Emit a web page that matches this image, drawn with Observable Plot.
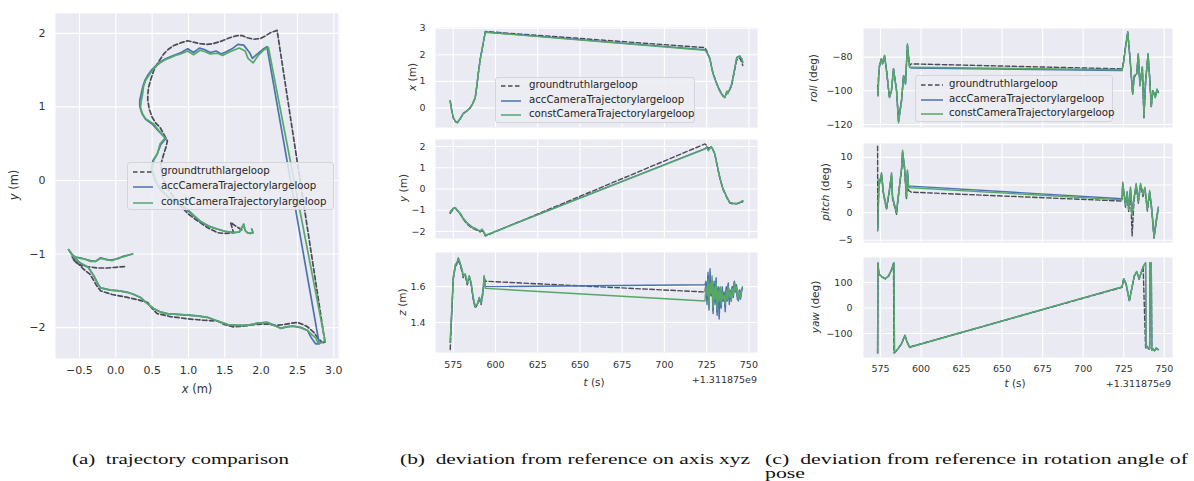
<!DOCTYPE html>
<html><head><meta charset="utf-8">
<script src="https://cdn.jsdelivr.net/npm/d3@7"></script>
<script src="https://cdn.jsdelivr.net/npm/@observablehq/plot@0.6"></script>
<style>
body{margin:0;background:#fff;}
#fig{position:relative;width:1194px;height:481px;overflow:hidden;background:#fff;font-family:"DejaVu Sans",sans-serif;color:#333;}
.p{position:absolute;}
.lab{position:absolute;white-space:nowrap;color:#333;transform:translate(-50%,-50%);}
.rot{transform:translate(-50%,-50%) rotate(-90deg);}
.off{position:absolute;white-space:nowrap;color:#333;font-size:9.5px;transform:translate(-100%,-50%);}
.cap{position:absolute;font-family:"Liberation Serif","Times New Roman",serif;font-size:15px;color:#111;white-space:nowrap;line-height:14px;transform-origin:0 50%;}
.leg{position:absolute;background:rgba(236,236,243,0.85);border:1px solid #d4d4dc;border-radius:3px;font-size:10.2px;color:#262626;box-sizing:border-box;}
.leg .row{position:absolute;left:0;right:0;height:12px;transform:translateY(-50%);}
.leg svg{position:absolute;top:0;}
.leg span{position:absolute;top:-1px;white-space:nowrap;}
</style></head><body><div id="fig"></div>
<script>
// ---------- series names / colours ----------
const seriesNames = ["groundtruthlargeloop", "accCameraTrajectorylargeloop", "constCameraTrajectorylargeloop"];
const seriesColors = ["#4a4a5a", "#4C72B0", "#55A868"];
const timeOffsetLabel = "+1.311875e9";

// ---------- (a) trajectory x/y pairs (m) ----------
const trajGroundTruth = [[0.12,-1.17],[0.00,-1.18],[-0.12,-1.19],[-0.25,-1.19],[-0.40,-1.17],[-0.52,-1.14],[-0.58,-1.08],[-0.60,-1.04],[-0.55,-1.10],[-0.45,-1.20],[-0.35,-1.28],[-0.27,-1.42],[-0.21,-1.50],[-0.05,-1.55],[0.16,-1.59],[0.30,-1.62],[0.44,-1.66],[0.50,-1.74],[0.57,-1.81],[0.75,-1.85],[0.99,-1.88],[1.20,-1.90],[1.40,-1.91],[1.50,-1.96],[1.62,-1.99],[1.75,-1.98],[1.89,-1.96],[2.09,-1.95],[2.20,-1.97],[2.31,-1.96],[2.42,-1.94],[2.50,-1.93],[2.58,-1.96],[2.64,-1.99],[2.72,-2.06],[2.78,-2.14],[2.84,-2.20],[2.88,-2.21],
[2.22,2.04],[2.13,2.01],[2.05,1.96],[1.99,1.93],[1.90,1.92],[1.81,1.94],[1.74,1.97],[1.67,1.97],[1.60,1.95],[1.54,1.93],[1.44,1.89],[1.34,1.86],[1.25,1.85],[1.16,1.86],[1.07,1.88],[0.99,1.90],[0.89,1.87],[0.79,1.83],[0.72,1.78],[0.66,1.72],[0.58,1.60],[0.52,1.49],[0.48,1.37],[0.45,1.26],[0.44,1.16],[0.44,1.09],[0.46,0.97],[0.50,0.86],[0.55,0.78],[0.61,0.72],[0.66,0.63],[0.71,0.54],[0.69,0.45],[0.66,0.36],[0.62,0.22],[0.64,0.05],[0.72,-0.12],[0.85,-0.30],[0.99,-0.45],[1.10,-0.53],[1.26,-0.64],[1.40,-0.71],[1.50,-0.72],[1.62,-0.71],[1.58,-0.57],[1.65,-0.62],[1.75,-0.68]];
const trajAcc = [[0.23,-1.00],[0.10,-1.03],[0.04,-1.06],[-0.05,-1.08],[-0.11,-1.08],[-0.21,-1.05],[-0.28,-1.10],[-0.35,-1.09],[-0.42,-1.07],[-0.49,-1.05],[-0.56,-1.04],[-0.60,-1.01],[-0.65,-0.94],[-0.62,-0.98],[-0.57,-1.05],[-0.49,-1.12],[-0.38,-1.18],[-0.30,-1.30],[-0.25,-1.40],[-0.21,-1.46],[-0.07,-1.49],[0.05,-1.50],[0.16,-1.52],[0.25,-1.55],[0.34,-1.59],[0.43,-1.67],[0.52,-1.74],[0.62,-1.79],[0.71,-1.81],[0.85,-1.82],[0.99,-1.83],[1.12,-1.84],[1.26,-1.86],[1.40,-1.91],[1.54,-1.96],[1.68,-1.97],[1.81,-1.97],[1.95,-1.94],[2.09,-1.93],[2.18,-1.97],[2.27,-2.01],[2.35,-1.99],[2.44,-1.98],[2.55,-2.00],[2.64,-2.04],[2.68,-2.12],[2.72,-2.18],[2.75,-2.22],[2.80,-2.22],
[2.08,1.82],[2.02,1.78],[1.95,1.72],[1.88,1.66],[1.84,1.74],[1.76,1.84],[1.68,1.85],[1.60,1.79],[1.52,1.75],[1.45,1.72],[1.38,1.76],[1.30,1.74],[1.22,1.78],[1.15,1.80],[1.07,1.74],[0.99,1.79],[0.90,1.74],[0.82,1.71],[0.75,1.68],[0.68,1.65],[0.61,1.61],[0.55,1.56],[0.49,1.50],[0.44,1.43],[0.40,1.36],[0.37,1.27],[0.35,1.18],[0.33,1.09],[0.33,1.01],[0.36,0.91],[0.41,0.83],[0.51,0.76],[0.60,0.66],[0.69,0.57],[0.62,0.49],[0.57,0.36],[0.51,0.27],[0.49,0.15],[0.54,0.00],[0.61,-0.12],[0.71,-0.22],[0.83,-0.30],[0.95,-0.38],[1.05,-0.46],[1.15,-0.55],[1.27,-0.62],[1.39,-0.66],[1.50,-0.69],[1.62,-0.71],[1.70,-0.70],[1.76,-0.60],[1.78,-0.68],[1.81,-0.71],[1.85,-0.72],[1.89,-0.71],[1.87,-0.66]];
const trajConst = [[0.23,-1.00],[0.10,-1.04],[0.04,-1.05],[-0.05,-1.09],[-0.11,-1.08],[-0.21,-1.06],[-0.28,-1.10],[-0.35,-1.10],[-0.42,-1.07],[-0.49,-1.06],[-0.56,-1.04],[-0.60,-1.02],[-0.65,-0.94],[-0.62,-0.98],[-0.57,-1.05],[-0.49,-1.12],[-0.38,-1.18],[-0.30,-1.30],[-0.25,-1.40],[-0.21,-1.46],[-0.07,-1.49],[0.05,-1.50],[0.16,-1.52],[0.25,-1.55],[0.34,-1.59],[0.43,-1.67],[0.52,-1.74],[0.62,-1.79],[0.71,-1.81],[0.85,-1.82],[0.99,-1.83],[1.12,-1.84],[1.26,-1.86],[1.40,-1.91],[1.54,-1.96],[1.68,-1.97],[1.81,-1.97],[1.95,-1.94],[2.09,-1.93],[2.18,-1.97],[2.27,-2.01],[2.35,-1.99],[2.44,-1.98],[2.55,-2.00],[2.64,-2.04],[2.70,-2.10],[2.75,-2.14],[2.78,-2.20],[2.82,-2.21],[2.88,-2.18],
[2.10,1.81],[2.03,1.77],[1.96,1.70],[1.89,1.60],[1.82,1.66],[1.78,1.76],[1.70,1.80],[1.62,1.77],[1.55,1.74],[1.47,1.70],[1.40,1.73],[1.30,1.72],[1.23,1.75],[1.16,1.77],[1.07,1.71],[0.99,1.76],[0.89,1.72],[0.82,1.70],[0.75,1.67],[0.68,1.64],[0.61,1.60],[0.55,1.55],[0.50,1.49],[0.45,1.42],[0.41,1.36],[0.38,1.27],[0.37,1.18],[0.35,1.08],[0.34,0.99],[0.37,0.90],[0.41,0.84],[0.52,0.77],[0.59,0.68],[0.68,0.58],[0.61,0.50],[0.57,0.36],[0.52,0.27],[0.50,0.15],[0.55,0.00],[0.62,-0.12],[0.72,-0.22],[0.84,-0.30],[0.96,-0.37],[1.06,-0.46],[1.16,-0.55],[1.28,-0.62],[1.40,-0.66],[1.50,-0.69],[1.62,-0.71],[1.70,-0.70],[1.76,-0.59],[1.78,-0.68],[1.81,-0.71],[1.85,-0.72],[1.89,-0.71],[1.87,-0.66]];

// ---------- (b) position over time (t in s, minus 1.311875e9) ----------
const tX = [573.2,574,575,576.2,577.4,579,580.9,583,585,586.5,588,589,589.8,591,592.2,593.2,594,724,725,726.9,728.7,731,732.8,734.6,735.8,737,737.5,738.7,739.9,740.5,741.7,742.8,744.6,745.8,746.4];
const xGt    = [0.25,-0.08,-0.38,-0.51,-0.56,-0.43,-0.23,-0.12,0.0,0.15,0.37,0.83,1.26,1.83,2.24,2.6,2.88,2.27,2.15,1.86,1.33,0.92,0.66,0.47,0.4,0.6,0.55,0.68,0.86,1.08,1.45,1.8,1.88,1.72,1.6];
const xAcc   = [0.27,-0.05,-0.36,-0.5,-0.55,-0.42,-0.21,-0.12,0.0,0.16,0.39,0.86,1.3,1.85,2.26,2.6,2.86,2.19,2.12,1.85,1.3,0.9,0.62,0.44,0.4,0.62,0.55,0.7,0.92,1.12,1.52,1.9,1.96,1.85,1.72];
const xConst = [0.27,-0.05,-0.37,-0.5,-0.56,-0.42,-0.22,-0.12,0.0,0.15,0.38,0.85,1.28,1.85,2.25,2.6,2.85,2.17,2.1,1.84,1.31,0.9,0.64,0.45,0.38,0.64,0.53,0.72,0.9,1.13,1.5,1.88,1.95,1.84,1.7];

const tY = [573.2,574,575,576.2,577.4,579.1,580.9,583.3,586.2,588,589.8,591,592.1,593.3,594,724,725,726,726.9,727.8,728.7,729.8,731,732.8,734.6,737,738.7,740.5,742.8,744.6,746.4];
const yGt    = [-1.15,-1.05,-0.95,-0.9,-1.02,-1.18,-1.42,-1.66,-1.85,-1.9,-1.98,-2.02,-1.95,-2.08,-2.21,2.12,2.05,1.9,1.95,1.98,1.85,1.65,1.18,0.5,0.0,-0.42,-0.66,-0.7,-0.7,-0.66,-0.6];
const yAcc   = [-1.08,-1.0,-0.9,-0.88,-1.0,-1.14,-1.38,-1.6,-1.79,-1.85,-1.94,-1.97,-1.9,-2.04,-2.18,1.9,1.98,1.82,1.93,1.97,1.86,1.66,1.22,0.55,0.03,-0.38,-0.63,-0.67,-0.69,-0.63,-0.56];
const yConst = [-1.1,-1.0,-0.92,-0.87,-1.0,-1.15,-1.39,-1.62,-1.8,-1.86,-1.95,-1.98,-1.9,-2.05,-2.19,1.88,1.95,1.8,1.9,2.0,1.85,1.67,1.2,0.54,0.02,-0.4,-0.64,-0.68,-0.68,-0.64,-0.55];

const tZ = [573.2,574.4,575,576.2,577.4,578,579.1,580.3,580.9,582.1,583.3,584.5,585.6,586.8,588,589.2,590.4,591.5,592.7,593.3,594,
724,724.6,725.2,725.8,726.4,727,727.6,728.2,728.8,729.4,730,730.6,731.2,731.8,732.4,733,733.6,734.2,734.8,735.4,736,736.6,737.2,737.8,738.4,739,739.6,740.2,740.8,741.4,742,742.6,743.2,743.8,744.4,745,745.6,746.2];
const zGt    = [1.25,1.5,1.64,1.71,1.73,1.75,1.72,1.68,1.65,1.66,1.61,1.65,1.61,1.53,1.48,1.5,1.53,1.5,1.57,1.65,1.63,
1.57,1.62,1.52,1.66,1.5,1.64,1.55,1.63,1.47,1.61,1.52,1.63,1.46,1.59,1.5,1.6,1.49,1.58,1.52,1.56,1.49,1.59,1.53,1.61,1.53,1.58,1.52,1.6,1.55,1.63,1.58,1.61,1.54,1.53,1.58,1.54,1.58,1.6];
const zAcc   = [1.29,1.52,1.65,1.72,1.74,1.76,1.73,1.69,1.66,1.67,1.62,1.66,1.62,1.54,1.49,1.5,1.54,1.51,1.58,1.66,1.6,
1.61,1.63,1.5,1.68,1.47,1.7,1.55,1.6,1.45,1.63,1.5,1.65,1.44,1.6,1.42,1.58,1.48,1.6,1.52,1.57,1.46,1.6,1.52,1.62,1.5,1.58,1.53,1.6,1.54,1.63,1.57,1.61,1.53,1.52,1.58,1.53,1.57,1.59];
const zConst = [1.29,1.52,1.65,1.72,1.73,1.76,1.73,1.69,1.66,1.67,1.62,1.66,1.62,1.54,1.49,1.5,1.54,1.51,1.58,1.66,1.59,
1.52,1.6,1.55,1.64,1.5,1.62,1.56,1.66,1.48,1.6,1.53,1.62,1.47,1.58,1.52,1.6,1.5,1.57,1.53,1.55,1.5,1.58,1.53,1.6,1.54,1.57,1.52,1.59,1.55,1.62,1.58,1.6,1.55,1.53,1.57,1.54,1.58,1.6];

// ---------- (c) rotation angles over time (deg) ----------
const tRoll = [573.2,573.5,573.8,574.4,575.6,576.2,577.5,578.7,580.5,581.8,583,584.9,586.1,588,589.2,590.4,591.6,592.9,594,
724,725,726,727.5,729,730.5,731.5,733,734,735,736.5,737.5,738.5,740,741,742,743,744.5,745.5,746.4];
const rollGt    = [-97,-102,-92,-85,-81,-84,-80,-88,-104,-99,-87,-100,-118,-105,-91,-95,-73,-85,-84,
-87,-82,-74,-65,-82,-102,-92,-90,-79,-96,-86,-116,-94,-79,-92,-110,-100,-103,-100,-101];
const rollAcc   = [-98,-103,-92,-85,-81,-84,-79,-88,-104,-100,-87,-100,-118,-106,-91,-96,-73,-86,-86.5,
-88,-83,-75,-65.5,-82,-101,-91,-90,-78,-97,-86,-114,-95,-78,-92,-108,-100,-104,-99,-101];
const rollConst = [-98,-103,-92,-85,-81,-84,-79,-88,-104,-100,-87,-100,-119,-106,-91,-96,-72,-86,-86,
-87.5,-83,-75,-65,-82,-102,-91,-90,-78,-97,-86,-115,-95,-78,-92,-109,-100,-104,-99,-101];

const tPitch = [573.2,573.3,574,574.5,575.6,576.8,578,578.7,580.5,581.8,582.4,584.9,585.5,588,588.6,589.8,591,591.6,592.3,594,
724,724.4,726.1,727.1,728.1,729.2,730.2,731.3,732.7,734,735.4,736.9,738.1,739.6,741,742.3,743.7,745.2,746.4];
const pitchGt    = [12,-2.8,5.6,5.2,6.8,3.4,1.6,0.6,3.8,6.8,2.5,-0.3,1.5,7.8,10.8,7.8,2.5,7.2,4.0,3.7,
2.1,5.0,1.0,3.3,0.2,4.0,-4.2,2.0,5.0,1.7,5.0,2.9,4.2,0.3,3.6,0.3,-4.6,-1.5,0.9];
const pitchAcc   = [-3.3,-3.0,6.0,5.5,7.1,3.7,2.0,0.7,4.2,7.0,2.9,-0.1,1.9,8.0,11.0,8.4,2.7,7.6,4.8,4.8,
2.5,5.5,1.5,3.8,0.8,4.6,0.2,2.6,5.0,2.3,5.0,3.6,4.3,0.9,3.7,0.9,-4.2,-1.0,1.0];
const pitchConst = [-3.2,-3.0,5.9,5.4,7.2,3.6,1.9,0.8,4.1,7.2,2.8,0.0,1.8,8.2,11.3,8.2,2.8,7.7,4.6,4.5,
2.3,5.3,1.3,3.6,0.5,4.4,-0.5,2.3,5.3,2.0,5.3,3.2,4.6,0.5,4.0,0.5,-4.5,-1.3,1.0];

const tYaw = [573.2,573.4,574,576,578,580,582,583,583.3,583.6,584.5,586,588,590,591.5,593,594,
724,725,726.5,728.5,731.5,733,734.5,737,738.5,738.8,739.5,740.5,741,741.3,742,742.3,743,744,745,746.4];
const yawGt    = [-176,177,133,121,114,125,153,176,-175,-174,-170,-157,-139,-107,-134,-154,-151,
81,113,93,27,124,141,113,160,-156,-156,-151,-161,-159,177,177,-166,-161,-167,-158,-164];
const yawAcc   = [-176,177,134,122,115,126,154,173,177,-176,-170,-158,-140,-108,-135,-155,-152,
83,115,95,29,126,143,115,162,177,-155,-150,-160,-158,178,178,-165,-160,-168,-157,-163];
const yawConst = [-176,177,134,122,115,126,154,173,177,-176,-170,-158,-140,-108,-135,-155,-152,
83,115,95,29,126,143,115,162,177,-155,-150,-160,-158,178,178,-165,-160,-168,-157,-163];

// ---------- tick values ----------
const trajXTicks = [-0.5,0,0.5,1,1.5,2,2.5,3];
const trajYTicks = [-2,-1,0,1,2];
const timeTicks = [575,600,625,650,675,700,725,750];
const xTicks = [0,1,2,3], yTicks = [-2,-1,0,1,2], zTicks = [1.4,1.6];
const rollTicks = [-120,-100,-80], pitchTicks = [-5,0,5,10], yawTicks = [-100,0,100];

// ---------- captions ----------
const captionA = "(a)\u2002trajectory comparison";
const captionB = "(b)\u2002deviation from reference on axis xyz";
const captionC1 = "(c)\u2002deviation from reference in rotation angle of";
const captionC2 = "pose";

// ---------- drawing ----------
const BG = "#EAEAF2";
const fig = document.getElementById("fig");
const timeDomain = [564.5, 755.1];

function panel(o) {
  const ml = 50, mt = 6, mr = 8, mb = o.showX ? 28 : 6;
  const [l, t, r, b] = o.frame;
  const W = r - l + ml + mr, H = b - t + mt + mb;
  const marks = [
    Plot.frame({fill: BG, stroke: null}),
    Plot.gridX(o.xt, {stroke: "#fff", strokeOpacity: 1, strokeWidth: 1.1}),
    Plot.gridY(o.yt, {stroke: "#fff", strokeOpacity: 1, strokeWidth: 1.1}),
    Plot.axisY(o.yt, {tickSize: 0, tickPadding: o.yp, tickFormat: o.yf, label: null, fontSize: o.fs})
  ];
  if (o.showX) marks.push(Plot.axisX(o.xt, {tickSize: 0, tickPadding: o.xp, tickFormat: o.xf, label: null, fontSize: o.fs}));
  o.series.forEach((s, i) => {
    marks.push(Plot.line(s.x, {x: s.x, y: s.y, stroke: seriesColors[i], strokeWidth: o.lw,
      strokeDasharray: i === 0 ? "4.5,2.5" : null, clip: true, curve: "linear"}));
  });
  const svg = Plot.plot({
    width: W, height: H, marginLeft: ml, marginRight: mr, marginTop: mt, marginBottom: mb,
    x: {domain: o.xd, axis: null}, y: {domain: o.yd, axis: null},
    style: {background: "transparent", fontFamily: "DejaVu Sans", color: "#333", overflow: "visible"},
    marks
  });
  svg.classList.add("p");
  svg.style.left = (l - ml) + "px";
  svg.style.top = (t - mt) + "px";
  fig.appendChild(svg);
}

function txt(html, x, y, cls, size) {
  const d = document.createElement("div");
  d.className = cls; d.innerHTML = html;
  d.style.left = x + "px"; d.style.top = y + "px";
  if (size) d.style.fontSize = size + "px";
  fig.appendChild(d);
  return d;
}

function legend(x, y, w, h, rows, sx0, sx1, tx) {
  const d = document.createElement("div");
  d.className = "leg";
  Object.assign(d.style, {left: x + "px", top: y + "px", width: w + "px", height: h + "px"});
  seriesNames.forEach((name, i) => {
    const r = document.createElement("div");
    r.className = "row"; r.style.top = rows[i] + "px";
    r.innerHTML = `<svg width="${sx1 + 2}" height="12" style="left:0"><line x1="${sx0}" x2="${sx1}" y1="6" y2="6" stroke="${seriesColors[i]}" stroke-width="1.5" ${i === 0 ? 'stroke-dasharray="4.5,2.5"' : ''}/></svg><span style="left:${tx}px">${name}</span>`;
    d.appendChild(r);
  });
  fig.appendChild(d);
}

const f1 = d3.format(".1f"), fd = d3.format("d");
const trajSeries = [trajGroundTruth, trajAcc, trajConst].map(a => ({x: a.map(p => p[0]), y: a.map(p => p[1])}));

// (a)
panel({frame: [55, 13, 338, 358], xd: [-0.83, 3.065], yd: [-2.42, 2.27], xt: trajXTicks, yt: trajYTicks,
  xf: f1, yf: fd, fs: 11, yp: 10, xp: 8, showX: true, lw: 1.7, series: trajSeries});
// (b)
const bx = [435, 757];
panel({frame: [bx[0], 27, bx[1], 127], xd: timeDomain, yd: [-0.74, 3.03], xt: timeTicks, yt: xTicks, yf: fd, fs: 9.5, yp: 10,
  lw: 1.4, series: [{x: tX, y: xGt}, {x: tX, y: xAcc}, {x: tX, y: xConst}]});
panel({frame: [bx[0], 139, bx[1], 238], xd: timeDomain, yd: [-2.33, 2.33], xt: timeTicks, yt: yTicks, yf: fd, fs: 9.5, yp: 10,
  lw: 1.4, series: [{x: tY, y: yGt}, {x: tY, y: yAcc}, {x: tY, y: yConst}]});
panel({frame: [bx[0], 252, bx[1], 352], xd: timeDomain, yd: [1.233, 1.79], xt: timeTicks, yt: zTicks, yf: f1, xf: fd, fs: 9.5, yp: 10, xp: 9,
  showX: true, lw: 1.4, series: [{x: tZ, y: zGt}, {x: tZ, y: zAcc}, {x: tZ, y: zConst}]});
// (c)
const cx = [863, 1172];
panel({frame: [cx[0], 28, cx[1], 127], xd: timeDomain, yd: [-121.8, -63], xt: timeTicks, yt: rollTicks, yf: fd, fs: 9.5, yp: 11,
  lw: 1.4, series: [{x: tRoll, y: rollGt}, {x: tRoll, y: rollAcc}, {x: tRoll, y: rollConst}]});
panel({frame: [cx[0], 143, cx[1], 242], xd: timeDomain, yd: [-5.4, 12.5], xt: timeTicks, yt: pitchTicks, yf: fd, fs: 9.5, yp: 11,
  lw: 1.4, series: [{x: tPitch, y: pitchGt}, {x: tPitch, y: pitchAcc}, {x: tPitch, y: pitchConst}]});
panel({frame: [cx[0], 257, cx[1], 357], xd: timeDomain, yd: [-194, 198], xt: timeTicks, yt: yawTicks, yf: fd, xf: fd, fs: 9.5, yp: 11, xp: 8,
  showX: true, lw: 1.4, series: [{x: tYaw, y: yawGt}, {x: tYaw, y: yawAcc}, {x: tYaw, y: yawConst}]});

// axis labels
txt("<i>x</i> (m)", 197, 389, "lab", 11.5);
txt("<i>y</i> (m)", 14, 185, "lab rot", 11.5);
txt("<i>x</i> (m)", 412, 77, "lab rot", 10.5);
txt("<i>y</i> (m)", 403, 188, "lab rot", 10.5);
txt("<i>z</i> (m)", 402, 302, "lab rot", 10.5);
txt("<i>t</i> (s)", 594, 382, "lab", 10.5);
txt(timeOffsetLabel, 757, 379, "off");
txt("<i>roll</i> (deg)", 813, 78, "lab rot", 10.5);
txt("<i>pitch</i> (deg)", 825, 192, "lab rot", 10.5);
txt("<i>yaw</i> (deg)", 815, 307, "lab rot", 10.5);
txt("<i>t</i> (s)", 1015, 383, "lab", 10.5);
txt(timeOffsetLabel, 1171, 383, "off");

// legends
legend(127, 162, 207, 48, [9, 24, 40], 5, 25, 33);
legend(495, 77, 200, 46, [8, 22.5, 37], 5, 25, 33);
legend(915, 75, 198, 47, [9, 24, 38], 5, 27, 33);

// captions (stretched to the reference widths)
function fitCap(text, x, y, targetW, scale) {
  const d = txt("", x, y, "cap");
  d.textContent = text;
  const k = scale ?? targetW / d.getBoundingClientRect().width;
  d.style.transform = `scaleX(${k})`;
  return k;
}
fitCap(captionA, 72, 452, 217);
fitCap(captionB, 400, 452, 350);
const kc = fitCap(captionC1, 765, 452, 423);
fitCap(captionC2, 765, 466, 0, kc);
</script></body></html>
